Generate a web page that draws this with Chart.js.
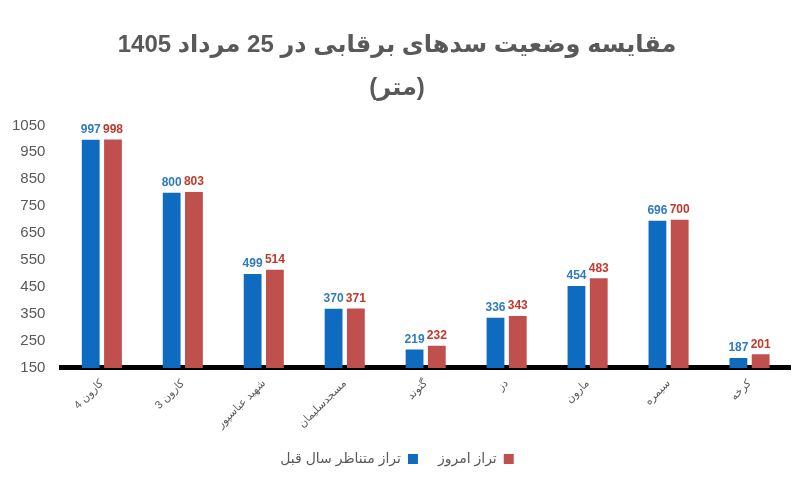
<!DOCTYPE html>
<html>
<head>
<meta charset="utf-8">
<script src="https://cdn.jsdelivr.net/npm/chart.js@4"></script>
<style>
  body { margin: 0; background: #fff; }
  #wrap { width: 800px; height: 503px; }
</style>
</head>
<body>
<div id="wrap"><canvas id="myChart" width="800" height="503"></canvas></div>
<script>
let dams = ["کارون 4", "کارون 3", "شهید عباسپور", "مسجدسلیمان", "گتوند", "دز", "مارون", "سیمره", "کرخه"];
let lastYear = [997, 800, 499, 370, 219, 336, 454, 696, 187];
let today = [998, 803, 514, 371, 232, 343, 483, 700, 201];
let yTicks = [150, 250, 350, 450, 550, 650, 750, 850, 950, 1050];

let fontFam = "Arial, 'Liberation Sans', 'DejaVu Sans', sans-serif";

// values over the bars
let barLabels = {
  id: 'barLabels',
  afterDatasetsDraw(chart) {
    let c = chart.ctx;
    c.save();
    c.font = "bold 12px " + fontFam;
    c.textAlign = 'center';
    c.textBaseline = 'bottom';
    chart.data.datasets.forEach((ds, i) => {
      let meta = chart.getDatasetMeta(i);
      meta.data.forEach((bar, j) => {
        c.fillStyle = ds.labelColor;
        c.fillText(ds.data[j], bar.x, bar.y - 4);
      });
    });
    c.restore();
  }
};

let ctx = document.getElementById('myChart').getContext('2d');

let myChart = new Chart(ctx, {
  type: 'bar',
  data: {
    labels: dams,
    datasets: [
      {
        label: 'تراز متناظر سال قبل',
        data: lastYear,
        backgroundColor: '#0F6BC0',
        labelColor: '#2E7BC4',
        categoryPercentage: 0.55,
        barPercentage: 0.8
      },
      {
        label: 'تراز امروز',
        data: today,
        backgroundColor: '#C0504D',
        labelColor: '#C0392B',
        categoryPercentage: 0.55,
        barPercentage: 0.8
      }
    ]
  },
  options: {
    responsive: false,
    animation: false,
    layout: { padding: { left: 4, right: 10, bottom: 27 } },
    plugins: {
      title: {
        display: true,
        text: ['مقایسه وضعیت سدهای برقابی در 25 مرداد 1405', '(متر)'],
        color: '#595959',
        font: { size: 24, weight: 'bold', family: fontFam, lineHeight: 1.8 },
        padding: { top: 24, bottom: 15 }
      },
      legend: {
        position: 'bottom',
        rtl: true,
        reverse: true,
        labels: {
          boxWidth: 10,
          boxHeight: 10,
          padding: 20,
          color: '#595959',
          font: { size: 14, family: fontFam }
        }
      },
      tooltip: { enabled: false }
    },
    scales: {
      x: {
        grid: { display: false },
        border: { display: true, color: '#000', width: 5 },
        ticks: {
          color: '#595959',
          font: { size: 11, family: fontFam },
          minRotation: 45,
          maxRotation: 45,
          padding: 1
        }
      },
      y: {
        min: yTicks[0],
        max: yTicks[yTicks.length - 1],
        grid: { display: false },
        border: { display: false },
        afterBuildTicks: axis => { axis.ticks = yTicks.map(v => ({ value: v })); },
        ticks: {
          color: '#595959',
          font: { size: 15, family: fontFam },
          padding: 8,
          callback: v => String(v)
        }
      }
    }
  },
  plugins: [barLabels]
});
</script>
</body>
</html>
